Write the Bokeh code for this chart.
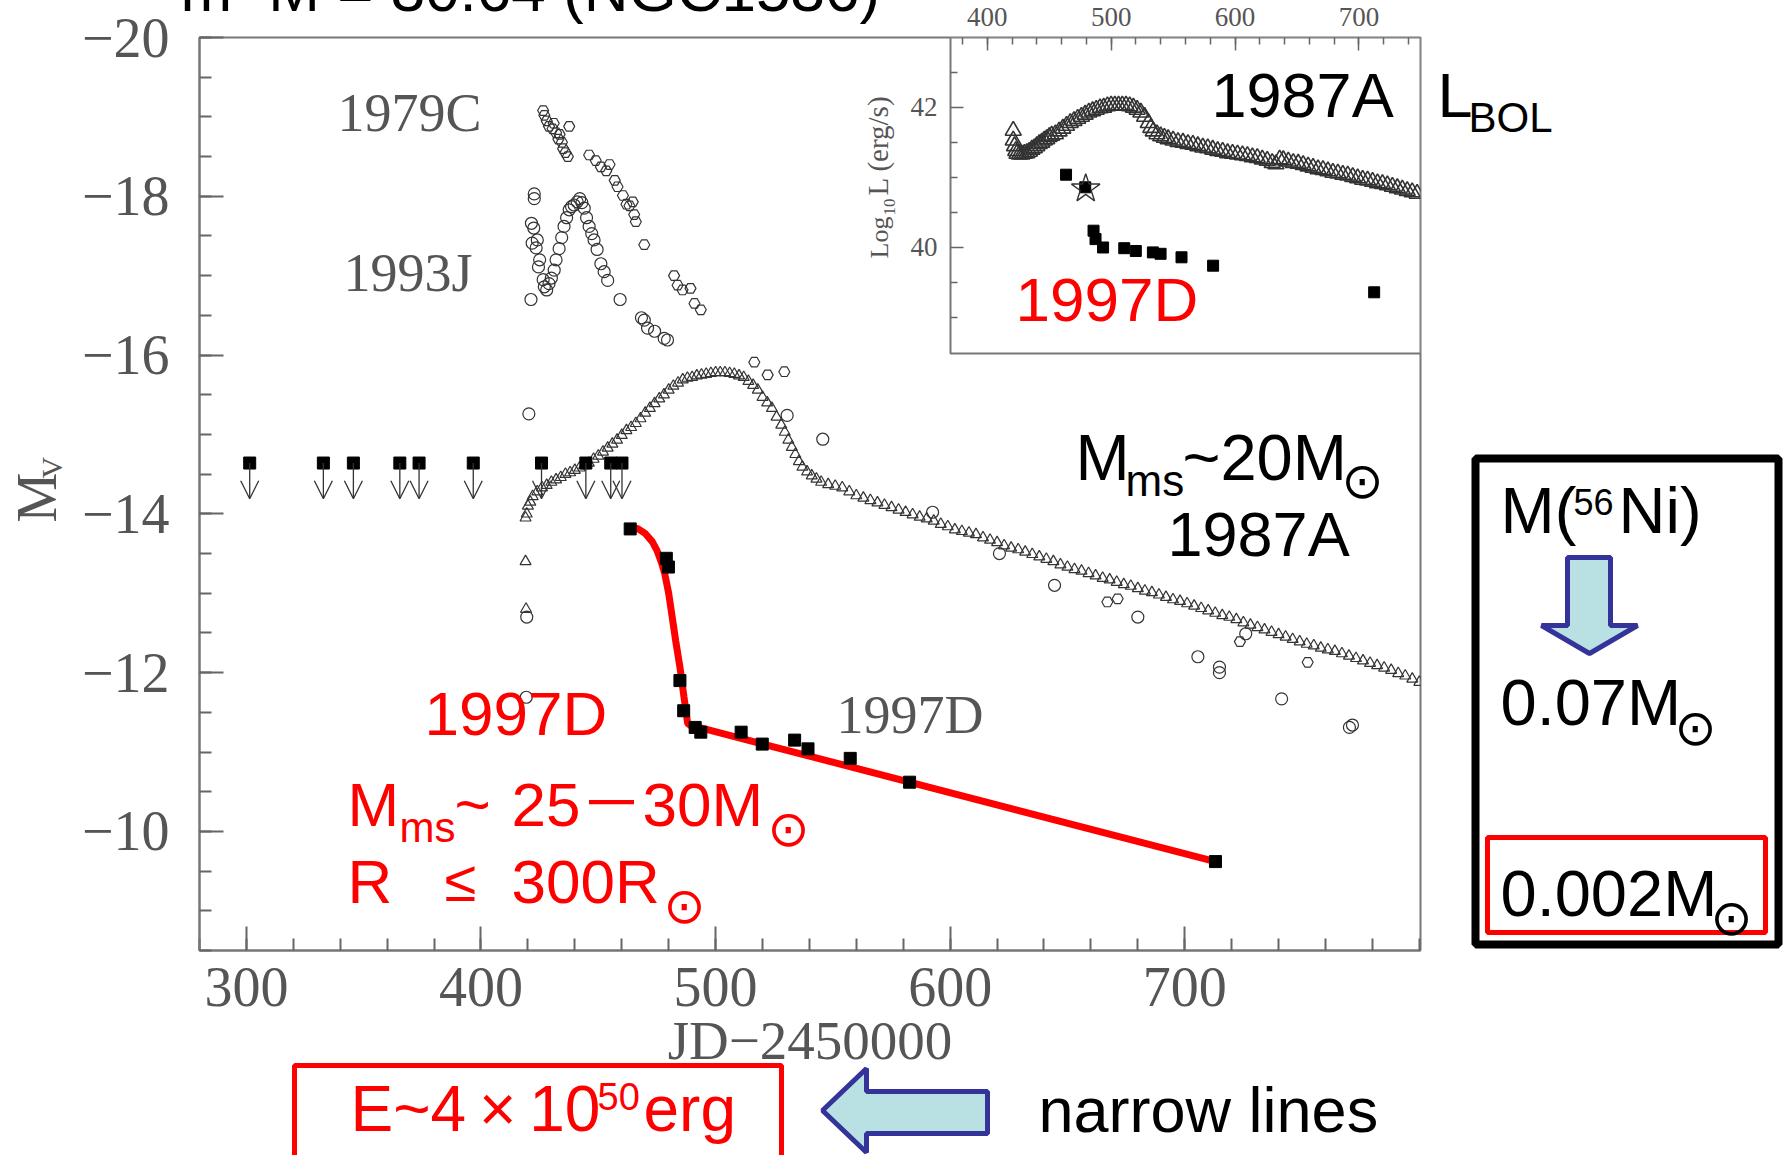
from math import pi
from bokeh.plotting import figure
from bokeh.models import Range1d, LinearAxis, FixedTicker, ColumnDataSource, Arrow, OpenHead
from bokeh.core.properties import value
from bokeh.embed import file_html
from bokeh.resources import INLINE

# ---------------- data ----------------
# SN 1987A, V band (open triangles)
sn87_x = [419.5, 419.0, 419.0, 419.2, 420.0, 421, 422, 424, 426, 428, 430, 432, 434, 436, 438, 440, 442,
          444, 446, 448, 450, 452, 454, 456, 458, 460, 462, 464, 466, 468, 470, 472, 474, 476, 478, 480,
          482, 484, 486, 488, 490, 492, 494, 496, 498, 500, 502, 504, 506, 508, 510, 512, 514, 516, 518,
          520, 522, 524, 526, 528, 529.5, 531, 532.5, 534, 535.5, 537, 539, 541, 543,
          545, 548, 551, 554, 557, 560, 563, 566, 569, 572, 575, 578, 581, 584, 587, 590, 593, 596, 599,
          602, 605, 608, 611, 614, 617, 620, 623, 626, 629, 632, 635, 638, 641, 644, 647, 650, 653, 656,
          659, 662, 665, 668, 671, 674, 677, 680, 683, 686, 689, 692, 695, 698, 701, 704, 707, 710, 713,
          716, 719, 722, 725, 728, 731, 734, 737, 740, 743, 746, 749, 752, 755, 758, 761, 764, 767, 770,
          773, 776, 779, 782, 785, 788, 791, 794, 797, 800]
sn87_m = [-14.00, -13.95, -13.40, -12.80, -14.10, -14.15, -14.22, -14.28, -14.33, -14.36, -14.40, -14.43,
          -14.46, -14.50, -14.52, -14.55, -14.58, -14.61, -14.64, -14.69, -14.73, -14.78, -14.83, -14.88,
          -14.93, -14.99, -15.05, -15.09, -15.14, -15.20, -15.27, -15.33, -15.39, -15.45, -15.50, -15.56,
          -15.61, -15.65, -15.69, -15.71, -15.72, -15.74, -15.75, -15.76, -15.77, -15.78, -15.78, -15.78,
          -15.77, -15.76, -15.74, -15.72, -15.67, -15.62, -15.56, -15.47, -15.40, -15.33, -15.22, -15.12,
          -15.03, -14.93, -14.84, -14.75, -14.66, -14.59, -14.53, -14.48, -14.44,
          -14.40, -14.37, -14.35, -14.33, -14.28, -14.23, -14.20, -14.17, -14.14, -14.11, -14.08, -14.05,
          -14.02, -13.99, -13.96, -13.94, -13.91, -13.87, -13.84, -13.80, -13.78, -13.76, -13.74, -13.70,
          -13.67, -13.64, -13.60, -13.57, -13.55, -13.52, -13.49, -13.46, -13.43, -13.40, -13.36, -13.33,
          -13.30, -13.28, -13.25, -13.22, -13.19, -13.17, -13.14, -13.11, -13.09, -13.06, -13.03, -13.01,
          -12.98, -12.95, -12.92, -12.90, -12.87, -12.84, -12.81, -12.78, -12.75, -12.72, -12.70, -12.67,
          -12.63, -12.60, -12.57, -12.54, -12.51, -12.48, -12.45, -12.42, -12.39, -12.36, -12.34, -12.31,
          -12.29, -12.27, -12.24, -12.21, -12.18, -12.15, -12.12, -12.09, -12.06, -12.03, -11.99, -11.96,
          -11.92, -11.88]

# SN 1979C (open pentagon-like markers)
sn79_x = [426.5, 427, 428, 429, 430.5, 431, 432, 433, 433.5, 434.5, 435, 436, 437, 437.6,
          446.1, 448.9, 451.1, 453.4, 454.8, 457, 458.2, 460.5, 462, 463.3, 464.7, 465.3, 466, 469.6,
          482.3, 483.8, 485.9, 489.3, 491, 493.7, 516.5, 522.2, 529.3, 667, 671.4, 723.5, 752.4]
sn79_m = [-19.08, -19.02, -18.95, -18.88, -18.85, -18.92, -18.80, -18.72, -18.78, -18.68, -18.60, -18.55,
          -18.50, -18.88, -18.52, -18.45, -18.37, -18.32, -18.40, -18.20, -18.12, -18.01, -17.90, -17.88,
          -17.93, -17.77, -17.68, -17.39, -17.00, -16.88, -16.82, -16.84, -16.65, -16.57, -15.91, -15.75,
          -15.79, -12.89, -12.93, -12.39, -12.13]

# SN 1993J and others (open circles)
sn93_x = [421.3, 422.7, 422.7, 421.5, 422.5, 421.8, 423.5, 424.0, 424.5, 425, 426.5, 427, 428, 429, 430,
          431.2, 432, 433.3, 434.4, 435.4, 436.5, 437.6, 438.6, 439.7, 441, 442.1, 443, 444, 445, 446.1,
          447.2, 448.2, 449.5, 451.1, 452.5, 454, 459.3, 468.4, 469.6, 471, 474, 478.1, 479.5,
          420.4, 419.5, 419.3, 530.5, 545.7, 592.5, 621, 644.5, 680, 705.6, 714.8, 714.8, 726, 741.3,
          770.2, 771.5]
sn93_m = [-16.70, -17.97, -18.03, -17.66, -17.60, -17.41, -17.35, -17.45, -17.11, -17.20, -16.95, -16.86,
          -16.82, -16.90, -16.97, -17.07, -17.20, -17.34, -17.48, -17.62, -17.73, -17.83, -17.87, -17.89,
          -17.93, -17.97, -17.92, -17.85, -17.73, -17.62, -17.53, -17.45, -17.33, -17.15, -17.05, -16.94,
          -16.70, -16.47, -16.44, -16.34, -16.30, -16.21, -16.19,
          -15.26, -12.70, -11.69, -15.24, -14.94, -14.02, -13.50, -13.10, -12.70, -12.20, -12.07, -12.00,
          -12.49, -11.67, -11.31, -11.34]

# SN 1997D upper limits (filled squares with arrows)
d97_lim_x = [301.4, 332.8, 345.6, 365.4, 373.6, 396.7, 425.8, 444.7, 455.3, 460.1]
d97_lim_m = [-14.64, -14.64, -14.64, -14.64, -14.64, -14.64, -14.64, -14.64, -14.64, -14.64]

# SN 1997D detections (filled squares)
d97_x = [463.6, 479.0, 479.9, 484.8, 486.4, 491.3, 493.7, 510.9, 519.9, 533.7, 539.4, 557.4, 582.7, 713.1]
d97_m = [-13.81, -13.44, -13.33, -11.90, -11.52, -11.31, -11.25, -11.25, -11.10, -11.15, -11.04,
         -10.92, -10.62, -9.62]

# red curve drawn through SN 1997D
fit_x = [463.6, 467, 470.1, 473, 475, 477, 478.3, 480, 481.5, 483, 484.8, 486.5, 488.1, 490, 492.9, 713.1]
fit_m = [-13.84, -13.81, -13.75, -13.65, -13.54, -13.38, -13.25, -13.0, -12.70, -12.40, -12.07, -11.70,
         -11.36, -11.32, -11.31, -9.62]

# inset: bolometric luminosity log10 L (erg/s)
bol87_x = [421, 421, 422, 423, 424, 426, 428, 430, 432, 434, 436, 438, 440, 442, 444, 446, 448, 450, 452,
           455, 458, 461, 464, 467, 470, 473, 476, 479, 482, 485, 488, 491, 494, 497, 500, 503, 506, 509,
           512, 515, 518, 521, 524, 527, 530, 532, 534, 537, 540, 543, 546, 550, 554, 558, 562, 566, 570,
           574, 578, 582, 586, 590, 594, 598, 602, 606, 610, 614, 618, 622, 626, 630, 633, 636, 639, 643,
           647, 651, 655, 659, 663, 667, 671, 675, 679, 683, 687, 691, 695, 699, 703, 707, 711, 715, 719,
           723, 727, 731, 735, 739, 743, 747]
bol87_l = [41.67, 41.53, 41.45, 41.38, 41.34, 41.33, 41.33, 41.34, 41.35, 41.37, 41.40, 41.42, 41.45,
           41.48, 41.50, 41.53, 41.55, 41.58, 41.60, 41.62, 41.66, 41.70, 41.74, 41.78, 41.81, 41.84,
           41.87, 41.90, 41.93, 41.95, 41.97, 41.99, 42.00, 42.02, 42.03, 42.03, 42.03, 42.03, 42.03,
           42.02, 42.00, 41.97, 41.93, 41.87, 41.78, 41.71, 41.66, 41.62, 41.59, 41.57, 41.55, 41.53,
           41.51, 41.50, 41.48, 41.47, 41.45, 41.43, 41.42, 41.40, 41.38, 41.37, 41.35, 41.34, 41.33,
           41.32, 41.31, 41.29, 41.28, 41.26, 41.24, 41.21, 41.19, 41.26, 41.25, 41.23, 41.21, 41.20,
           41.18, 41.16, 41.14, 41.12, 41.11, 41.09, 41.07, 41.06, 41.04, 41.03, 41.01, 40.99, 40.97,
           40.96, 40.94, 40.92, 40.91, 40.89, 40.87, 40.85, 40.83, 40.81, 40.79, 40.77]
bol97_x = [463.6, 479.1, 485.8, 487.4, 493.5, 510.6, 519.9, 533.7, 539.9, 556.8, 582.3, 712.3]
bol97_l = [41.04, 40.86, 40.24, 40.12, 40.00, 39.99, 39.95, 39.93, 39.91, 39.86, 39.74, 39.36]
star_x = [479.5]
star_l = [40.84]

x_major = [300, 400, 500, 600, 700]
x_minor = list(range(280, 801, 20))
y_major = [-20, -18, -16, -14, -12, -10]
y_minor = [-20 + 0.5 * k for k in range(24)]
ix_major = [400, 500, 600, 700]
ix_minor = list(range(380, 750, 20))
iy_major = [40, 42]
iy_minor = [39.0, 39.5, 40.5, 41.0, 41.5, 42.5]

# ---------------- layout ----------------
W, H = 1783, 1155
FL, FR, FT, FB = 199, 1420, 37, 950
SERIF = "Liberation Serif"
SANS = "'Liberation Sans', 'Noto Sans CJK JP', sans-serif"
SYM = "DejaVu Sans"
GRAY = "#555555"
RED = "#ff0000"
MK = "#333333"
KB = 0.38  # baseline correction (fraction of font size)

p = figure(width=W, height=H, x_range=Range1d(280, 800.5), y_range=Range1d(-8.5, -20.0),
           output_backend="svg", toolbar_location=None,
           min_border_left=FL, min_border_right=W - FR, min_border_top=FT, min_border_bottom=H - FB)
p.extra_x_ranges = {"px": Range1d(FL, FR), "ix": Range1d(-235.8, 749.7)}
p.extra_y_ranges = {"px": Range1d(FB, FT), "iy": Range1d(29.957, 43.0)}
p.grid.visible = False
p.outline_line_color = "#777777"
p.outline_line_width = 2
p.background_fill_color = "white"
p.border_fill_color = "white"

for ax in (p.xaxis[0], p.yaxis[0]):
    ax.axis_line_color = "#777777"
    ax.axis_line_width = 2
    ax.major_tick_in = 24
    ax.major_tick_out = 0
    ax.minor_tick_in = 12
    ax.minor_tick_out = 0
    ax.major_tick_line_color = "#666666"
    ax.minor_tick_line_color = "#666666"
    ax.major_tick_line_width = 2
    ax.minor_tick_line_width = 2
    ax.major_label_text_font = SERIF
    ax.major_label_text_font_size = "56px"
    ax.major_label_text_color = GRAY
    ax.axis_label_text_font = SERIF
    ax.axis_label_text_font_size = "55px"
    ax.axis_label_text_color = GRAY
    ax.axis_label_text_font_style = "normal"

p.xaxis.ticker = FixedTicker(ticks=x_major, minor_ticks=x_minor)
p.yaxis.ticker = FixedTicker(ticks=y_major, minor_ticks=y_minor)
p.yaxis.major_label_overrides = {t: "\u2212%d" % (-t) for t in y_major}
p.xaxis.major_label_standoff = 17
p.yaxis.major_label_standoff = 30
p.xaxis.axis_label = "JD\u22122450000"
p.xaxis.axis_label_standoff = 1

# inset top axis (ticks; its labels are written below)
iax = LinearAxis(x_range_name="ix", ticker=FixedTicker(ticks=ix_major, minor_ticks=ix_minor))
iax.axis_line_color = None
iax.major_tick_in = 13
iax.major_tick_out = 0
iax.minor_tick_in = 7
iax.minor_tick_out = 0
iax.major_tick_line_color = "#666666"
iax.minor_tick_line_color = "#666666"
iax.major_tick_line_width = 1.5
iax.minor_tick_line_width = 1.5
iax.major_label_overrides = {t: "" for t in ix_major}
iax.major_label_text_font_size = "10px"
iax.major_label_standoff = 0
p.add_layout(iax, "above")

# ---------------- main plot data ----------------
p.scatter(sn87_x, sn87_m, marker="triangle", size=11, fill_color=None, line_color=MK, line_width=1.2)
p.scatter(sn79_x, sn79_m, marker="hex", size=11, fill_color=None, line_color=MK, line_width=1.2)
p.scatter(sn93_x, sn93_m, marker="circle", size=12, fill_color=None, line_color=MK, line_width=1.2)

lim_src = ColumnDataSource(dict(x=d97_lim_x, y0=d97_lim_m, y1=[m + 0.45 for m in d97_lim_m]))
p.add_layout(Arrow(end=OpenHead(size=18, line_color=MK, line_width=1.3), x_start="x", y_start="y0",
                   x_end="x", y_end="y1", source=lim_src, line_color=MK, line_width=1.3))
p.scatter(d97_lim_x, d97_lim_m, marker="square", size=12, fill_color="black", line_color="black")

p.line(fit_x, fit_m, line_color=RED, line_width=7)
p.scatter(d97_x, d97_m, marker="square", size=12, fill_color="black", line_color="black")


def T(x, y, s, size, color="black", font=SANS, align="left", baseline="alphabetic", angle=0.0,
      xr="px", yr="px"):
    if baseline == "alphabetic":
        if angle == 0.0:
            y = y - KB * size
        else:
            x = x - KB * size
    p.text(x=[x], y=[y], text=[s], x_range_name=xr, y_range_name=yr, text_font=value(font),
           text_font_size="%dpx" % size, text_color=color, text_align=align, text_baseline=baseline,
           angle=angle, level="overlay")


def SUN(x, y, size, color="black"):
    T(x, y, "\u2299", size, color=color, font=SYM, align="center", baseline="middle")


# ---------------- inset ----------------
p.quad(left=[950], right=[1420], top=[37], bottom=[353], x_range_name="px", y_range_name="px",
       fill_color="white", line_color="#777777", line_width=2)
p.segment(x0=[950] * len(iy_major), x1=[963] * len(iy_major), y0=iy_major, y1=iy_major,
          x_range_name="px", y_range_name="iy", line_color="#666666", line_width=1.5)
p.segment(x0=[950] * len(iy_minor), x1=[957] * len(iy_minor), y0=iy_minor, y1=iy_minor,
          x_range_name="px", y_range_name="iy", line_color="#666666", line_width=1.5)
p.text(x=[937] * len(iy_major), y=iy_major, text=[str(v) for v in iy_major], x_range_name="px",
       y_range_name="iy", text_font=value(SERIF), text_font_size="27px", text_color=GRAY,
       text_align="right", text_baseline="middle")
p.text(x=ix_major, y=[27 - KB * 27] * len(ix_major), text=[str(v) for v in ix_major],
       x_range_name="ix", y_range_name="px", text_font=value(SERIF), text_font_size="27px",
       text_color=GRAY, text_align="center", text_baseline="alphabetic", level="overlay")
p.scatter(bol87_x, bol87_l, marker="triangle", size=16, fill_color=None, line_color="#333333",
          line_width=1.6, x_range_name="ix", y_range_name="iy")
p.scatter(bol97_x, bol97_l, marker="square", size=11, fill_color="black", line_color="black",
          x_range_name="ix", y_range_name="iy")
p.scatter(star_x, star_l, marker="star", size=30, fill_color=None, line_color=MK, line_width=1.4,
          x_range_name="ix", y_range_name="iy")

# inset axis label
T(889, 258, "Log", 26, GRAY, SERIF, angle=pi / 2)
T(895, 215, "10", 17, GRAY, SERIF, angle=pi / 2)
T(889, 195, "L (erg/s)", 29, GRAY, SERIF, angle=pi / 2)

# main y label
T(58, 522, "M", 56, GRAY, SERIF, angle=pi / 2)
T(62, 478, "V", 30, GRAY, SERIF, angle=pi / 2)

# title (cut off at top, as in the original)
T(180, 13, "m\u2212M = 30.64 (NGC1536)", 62)

# gray plot labels
T(337, 133, "1979C", 54, GRAY, SERIF)
T(343, 293, "1993J", 54, GRAY, SERIF)
T(836, 735, "1997D", 54, GRAY, SERIF)

# inset labels
T(1211, 118, "1987A", 63)
T(1437, 118, "L", 63)
T(1468, 133, "BOL", 42)
T(1015, 323, "1997D", 62, RED)

# 1987A labels
T(1075, 482, "M", 65)
T(1125, 497, "ms", 44)
T(1182, 482, "~20M", 65)
SUN(1362, 480, 50)
T(1167, 557, "1987A", 63)

# 1997D red labels
T(424, 737, "1997D", 62, RED)
T(347, 828, "M", 62, RED)
T(399, 843, "ms", 42, RED)
T(454, 828, "~", 62, RED)
T(511, 828, "25\uff0d30M", 62, RED)
SUN(788, 828, 50, RED)
T(347, 905, "R", 62, RED)
T(460, 902, "\u2264", 58, RED, align="center")
T(511, 905, "300R", 62, RED)
SUN(684, 905, 50, RED)

# Ni box on the right
p.quad(left=[1475], right=[1778], top=[458], bottom=[944], x_range_name="px", y_range_name="px",
       fill_color=None, line_color="black", line_width=8, level="overlay")
T(1500, 535, "M(", 65)
T(1573, 515, "56", 36)
T(1618, 535, "Ni)", 65)
p.patch(x=[1567, 1610, 1610, 1637, 1589, 1541, 1567], y=[557, 557, 625, 625, 653, 625, 625],
        x_range_name="px", y_range_name="px", fill_color="#b9e0e3", line_color="#333399",
        line_width=5, level="overlay")
T(1500, 727, "0.07M", 65)
SUN(1695, 727, 50)
p.quad(left=[1487], right=[1765], top=[837], bottom=[932], x_range_name="px", y_range_name="px",
       fill_color=None, line_color=RED, line_width=5, level="overlay")
T(1500, 918, "0.002M", 65)
SUN(1731, 917, 50)

# bottom row
p.quad(left=[294], right=[781], top=[1065], bottom=[1170], x_range_name="px", y_range_name="px",
       fill_color=None, line_color=RED, line_width=5, level="overlay")
T(350, 1133, "E~4\u2009\u00d7\u200910", 64, RED)
T(597, 1110, "50", 38, RED)
T(643, 1133, "erg", 64, RED)
p.patch(x=[822, 866, 866, 987, 987, 866, 866], y=[1110, 1068, 1091, 1091, 1133, 1133, 1152],
        x_range_name="px", y_range_name="px", fill_color="#b9e0e3", line_color="#333399",
        line_width=5, level="overlay")
T(1038, 1133, "narrow lines", 63)

open("out.html", "w").write(file_html(p, INLINE))
